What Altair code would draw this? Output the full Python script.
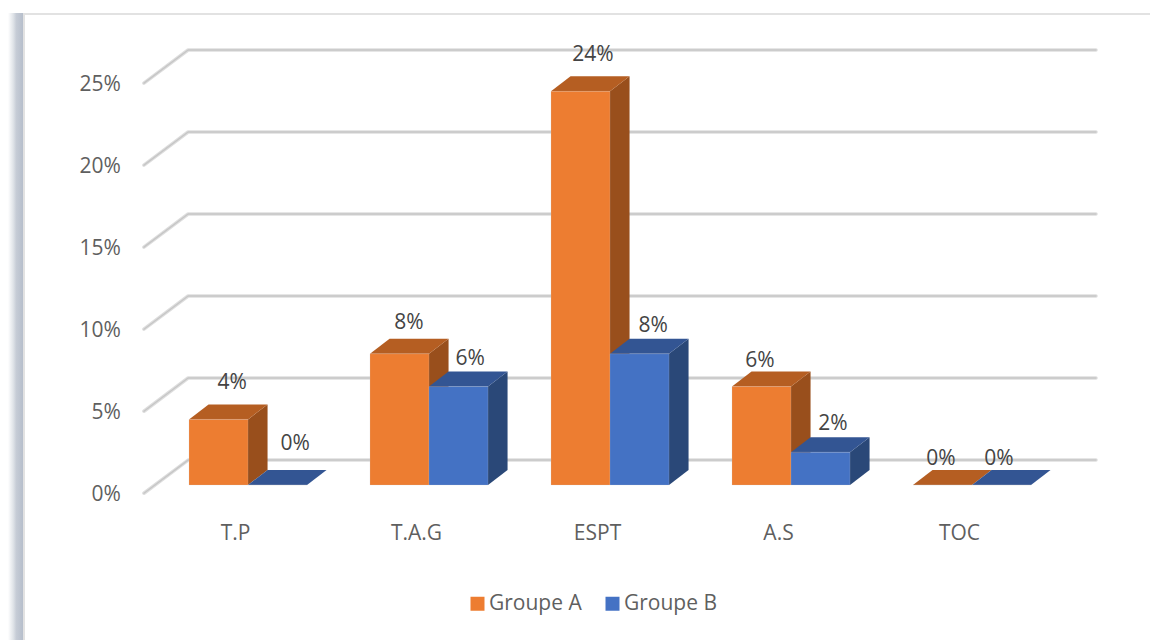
import altair as alt
import pandas as pd

# Chart values (percent)
categories = ["T.P", "T.A.G", "ESPT", "A.S", "TOC"]
groupe_a = [4, 8, 24, 6, 0]
groupe_b = [0, 6, 8, 2, 0]
y_ticks = [0, 5, 10, 15, 20, 25]

# Label placement relative to each bar (category units, percentage points)
label_shift_a = [0.238, 0.215, 0.232, 0.155, 0.155]
label_shift_b = [0.260, 0.227, 0.238, 0.232, 0.149]
label_lift_a = [2.19, 1.89, 2.24, 1.54, 1.59]
label_lift_b = [2.49, 1.71, 1.71, 1.71, 1.59]

# Oblique projection used for the pseudo-3D look
BAR_W = 0.326
DEPTH_X = 0.108
DEPTH_Y = 0.915
WALL_Y = 1.52
FRONT_Y = -0.50
FRONT_X = -0.249
WALL_X = -0.005
WALL_END = 5.011

FONT = "Open Sans"
COLORS = {
    "Groupe A": {"front": "#ED7D31", "top": "#B55E22", "side": "#994F1C"},
    "Groupe B": {"front": "#4472C4", "top": "#335593", "side": "#2A4878"},
}

x_scale = alt.Scale(domain=[-1.0442, 5.3094], nice=False, zero=False)
y_scale = alt.Scale(domain=[-9.45, 29.57], nice=False, zero=False)


def qx(field):
    return alt.X(field, type="quantitative", scale=x_scale, axis=None, stack=None)


def qy(field):
    return alt.Y(field, type="quantitative", scale=y_scale, axis=None, stack=None)


# Faces of every bar
fronts, tops, sides = [], [], []
for group, values, offset in (("Groupe A", groupe_a, 0.0), ("Groupe B", groupe_b, BAR_W)):
    for i, v in enumerate(values):
        left = i + offset
        right = left + BAR_W
        key = f"{group}-{i}"
        fronts.append({"group": group, "x": left, "x2": right, "y": v, "y2": 0})
        tops.append({"key": key, "group": group, "y": v, "x": left, "x2": right})
        tops.append({"key": key, "group": group, "y": v + DEPTH_Y,
                     "x": left + DEPTH_X, "x2": right + DEPTH_X})
        sides.append({"key": key, "group": group, "x": right, "y": v, "y2": 0})
        sides.append({"key": key, "group": group, "x": right + DEPTH_X,
                      "y": v + DEPTH_Y, "y2": DEPTH_Y})
fronts, tops, sides = map(pd.DataFrame, (fronts, tops, sides))

# Back wall lines with the short return towards the value labels
grid_rows = []
for t in y_ticks:
    grid_rows += [
        {"tick": t, "step": 0, "x": FRONT_X, "y": t + FRONT_Y},
        {"tick": t, "step": 1, "x": WALL_X, "y": t + WALL_Y},
        {"tick": t, "step": 2, "x": WALL_END, "y": t + WALL_Y},
    ]
grid = pd.DataFrame(grid_rows)


def grid_layer(color, width):
    return (
        alt.Chart(grid)
        .mark_line(color=color, strokeWidth=width, strokeCap="round", strokeJoin="round")
        .encode(x=qx("x"), y=qy("y"), detail="tick:N", order="step:Q")
    )


def face_layers(group):
    shade = COLORS[group]
    side = (
        alt.Chart(sides[sides.group == group])
        .mark_area(color=shade["side"], line=False)
        .encode(x=qx("x"), y=qy("y"), y2="y2:Q", detail="key:N")
    )
    top = (
        alt.Chart(tops[tops.group == group])
        .mark_area(color=shade["top"], orient="horizontal")
        .encode(y=qy("y"), x=qx("x"), x2="x2:Q", detail="key:N")
    )
    front = (
        alt.Chart(fronts[fronts.group == group])
        .mark_rect(stroke="#cfcfcf", strokeWidth=0.4, strokeOpacity=0.5)
        .encode(
            x=qx("x"),
            x2="x2:Q",
            y=qy("y"),
            y2="y2:Q",
            color=alt.Color(
                "group:N",
                scale=alt.Scale(
                    domain=["Groupe A", "Groupe B"],
                    range=[COLORS["Groupe A"]["front"], COLORS["Groupe B"]["front"]],
                ),
                legend=alt.Legend(
                    title=None,
                    orient="none",
                    legendX=467,
                    legendY=593,
                    direction="horizontal",
                    symbolType="square",
                    symbolSize=196,
                    symbolStrokeWidth=0,
                    symbolOpacity=1,
                    labelFont=FONT,
                    labelFontSize=21,
                    labelColor="#5f5f5f",
                    labelOffset=1,
                    columnPadding=20,
                    padding=0,
                ),
            ),
        )
    )
    return [side, top, front]


# Value labels, category labels and percent scale labels
value_labels = pd.DataFrame(
    [
        {"x": i + label_shift_a[i], "y": v + label_lift_a[i], "text": f"{v}%"}
        for i, v in enumerate(groupe_a)
    ]
    + [
        {"x": i + BAR_W + label_shift_b[i], "y": v + label_lift_b[i], "text": f"{v}%"}
        for i, v in enumerate(groupe_b)
    ]
)
category_labels = pd.DataFrame(
    {"x": [i + 0.257 for i in range(len(categories))], "y": [-3.0] * 5, "text": categories}
)
tick_labels = pd.DataFrame(
    {"x": [-0.376] * len(y_ticks), "y": [t + FRONT_Y - 0.1 for t in y_ticks], "text": [f"{t}%" for t in y_ticks]}
)


def text_layer(frame, align, color, size=21):
    return (
        alt.Chart(frame)
        .mark_text(align=align, baseline="middle", font=FONT, fontSize=size, color=color)
        .encode(x=qx("x"), y=qy("y"), text="text:N")
    )


# Frame of the page: shaded strip on the left, thin line along the top
strip = alt.Chart(pd.DataFrame({"a": [0]})).mark_rect(
    color=alt.Gradient(
        gradient="linear",
        x1=0, x2=1, y1=0, y2=0,
        stops=[
            alt.GradientStop(offset=0, color="#ffffff"),
            alt.GradientStop(offset=0.35, color="#dfe3e8"),
            alt.GradientStop(offset=0.55, color="#c6ccd6"),
            alt.GradientStop(offset=1, color="#b6becb"),
        ],
    )
).encode(x=alt.value(8), x2=alt.value(23), y=alt.value(13), y2=alt.value(640))
strip_edge = alt.Chart(pd.DataFrame({"a": [0]})).mark_rect(color="#e2e2e2").encode(
    x=alt.value(23), x2=alt.value(25), y=alt.value(13), y2=alt.value(640)
)
top_line = alt.Chart(pd.DataFrame({"a": [0]})).mark_rect(color="#e2e2e2").encode(
    x=alt.value(23), x2=alt.value(1150), y=alt.value(13), y2=alt.value(15)
)

chart = alt.layer(
    strip,
    strip_edge,
    top_line,
    grid_layer("#dedede", 3.6),
    grid_layer("#c6c6c6", 1.4),
    *face_layers("Groupe A"),
    *face_layers("Groupe B"),
    text_layer(value_labels, "center", "#444444"),
    text_layer(category_labels, "center", "#5f5f5f"),
    text_layer(tick_labels, "right", "#5f5f5f"),
).properties(
    width=1150,
    height=640,
    padding=0,
    autosize=alt.AutoSizeParams(type="none"),
    background="#ffffff",
).configure_view(stroke=None)

chart.save("out.html", embed_options={"renderer": "svg", "actions": False})
